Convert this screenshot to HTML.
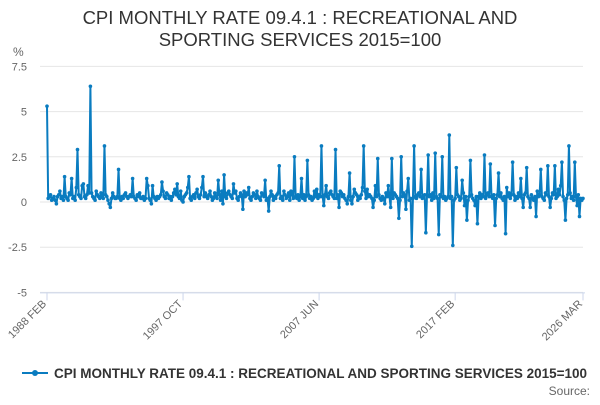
<!DOCTYPE html>
<html><head><meta charset="utf-8"><style>
body{margin:0;background:#fff;font-family:"Liberation Sans",sans-serif;}
svg text{font-family:"Liberation Sans",sans-serif;}
</style></head><body>
<svg width="600" height="400" xmlns="http://www.w3.org/2000/svg">
<text x="300" y="24" text-anchor="middle" font-size="18.5" fill="#333">CPI MONTHLY RATE 09.4.1 : RECREATIONAL AND</text>
<text x="300" y="46" text-anchor="middle" font-size="18.5" fill="#333">SPORTING SERVICES 2015=100</text>
<text x="13" y="56" font-size="12" fill="#666">%</text>
<g id="grid"></g><g id="yt"></g><g id="xt"></g><g id="series"></g>
<g>
<line x1="22" y1="373" x2="48" y2="373" stroke="#0a7cc0" stroke-width="2"/>
<circle cx="35" cy="373" r="3" fill="#0a7cc0"/>
<text x="54" y="378" font-size="13.5" font-weight="bold" fill="#333">CPI MONTHLY RATE 09.4.1 : RECREATIONAL AND SPORTING SERVICES 2015=100</text>
</g>
<text x="590" y="395" text-anchor="end" font-size="12" fill="#666">Source:</text>
</svg>
<script>
const yTicks=[7.5,5,2.5,0,-2.5,-5];
const yTickLabels=["7.5","5","2.5","0","-2.5","-5"];
const xTickIdx=[0,116,232,348,457];
const xTickLabels=["1988 FEB","1997 OCT","2007 JUN","2017 FEB","2026 MAR"];
const values=[
5.3,0.2,0.3,0.4,0.1,0.2,0.3,0.1,-0.1,0.3,0.4,0.6,
0.2,0.3,0.1,1.4,0.3,0.2,0.1,0.5,0.4,1.3,0.2,0.3,
0.1,0.8,2.9,0.4,0.3,0.2,0.9,1.0,0.3,0.2,0.4,0.9,
0.5,6.4,0.5,0.3,0.2,0.1,0.6,0.4,0.3,0.2,0.5,0.3,
0.2,3.1,0.4,0.3,0.1,-0.1,-0.3,0.2,0.5,0.3,0.2,0.2,
0.3,1.8,0.2,0.1,0.3,0.2,0.4,0.5,0.3,0.2,0.3,0.4,
0.3,1.3,0.3,0.2,0.1,0.4,0.3,0.5,0.2,0.2,0.3,0.1,
0.2,1.3,0.9,0.2,0.1,-0.1,0.9,0.3,0.2,0.1,0.3,0.2,
0.3,0.4,1.1,0.6,0.3,0.2,0.5,0.4,0.2,0.3,0.1,0.3,
0.5,0.7,0.4,1.0,0.3,0.2,0.6,0.1,0.0,0.3,0.4,0.5,
0.8,1.4,0.2,0.1,0.3,0.4,0.2,0.5,0.7,0.3,0.2,0.4,
0.8,1.4,0.3,0.5,0.3,0.2,0.4,0.6,0.3,0.1,0.2,0.5,
0.3,0.2,1.2,0.4,0.1,0.6,-0.1,1.5,0.3,0.2,0.5,0.6,
0.4,0.3,0.2,1.0,0.5,0.6,0.2,0.1,0.3,0.5,0.4,-0.4,
0.6,0.3,0.5,0.4,0.8,0.2,0.1,0.3,0.5,0.4,0.2,0.6,
0.3,0.2,0.1,0.5,0.4,0.3,1.2,0.1,0.2,-0.5,0.3,0.6,
0.4,0.1,0.3,0.2,0.4,0.5,2.0,0.2,0.3,0.1,0.6,0.4,
0.2,0.3,0.5,0.1,0.6,0.4,0.2,2.5,0.3,0.2,0.4,0.1,
0.3,1.3,0.2,0.4,0.1,0.3,2.3,0.4,0.2,0.3,0.1,0.2,
0.6,0.3,0.7,0.2,0.4,0.3,3.1,0.3,-0.2,0.4,0.9,0.3,
0.2,0.5,0.6,0.4,0.3,0.2,2.9,0.2,0.4,-0.3,0.6,0.5,
0.3,0.4,0.2,0.1,-0.1,0.3,1.6,0.1,-0.1,0.3,0.7,0.5,
0.4,0.1,0.3,0.2,0.4,0.8,3.1,0.6,0.2,0.7,0.3,0.4,
0.3,0.2,-0.3,0.1,0.9,0.3,2.4,0.4,0.2,0.1,0.3,0.2,
-0.1,0.5,0.3,0.9,0.3,-0.3,2.4,0.2,0.5,0.4,0.3,0.2,
-0.9,0.1,2.5,0.3,0.5,0.4,-0.4,0.6,1.3,0.1,0.2,-2.45,
0.2,3.1,0.3,0.2,0.4,0.5,0.3,1.8,0.2,0.3,0.4,-1.7,
0.4,2.6,0.3,0.4,0.1,0.5,0.2,2.7,0.3,0.2,-1.8,0.4,
0.3,2.5,0.2,0.3,0.1,0.2,0.3,3.7,0.2,0.3,-2.4,0.1,
0.2,1.9,0.4,0.3,0.1,0.2,1.2,0.5,-0.2,0.3,-1.0,0.1,
0.3,2.3,0.4,0.2,0.1,-0.2,0.3,-1.2,0.3,0.5,0.2,0.4,
0.3,2.6,0.2,0.4,0.5,0.3,2.1,0.3,0.2,0.4,-1.3,0.2,
0.4,1.6,0.3,0.5,0.2,0.1,0.3,-1.75,0.8,0.3,0.5,0.2,
0.4,2.2,0.4,0.1,0.3,0.2,0.5,0.3,1.3,0.2,-0.3,0.4,
0.5,1.9,0.3,0.2,-0.3,0.4,0.2,0.1,0.3,-0.8,0.6,0.3,
0.4,1.8,0.3,0.2,0.1,0.5,0.4,2.0,0.3,-0.3,0.2,0.5,
0.4,2.0,0.2,0.3,0.7,0.4,0.9,2.2,0.3,0.1,-1.0,0.2,
0.4,3.1,0.5,0.2,0.3,0.1,2.2,0.3,-0.2,0.4,-0.8,0.2,
0.1,0.2];
const NS="http://www.w3.org/2000/svg";
const X0=47,X1=583,Y0=202,PX=18.08;
function xs(i){return X0+i*(X1-X0)/(values.length-1);}
function ys(v){return Y0-v*PX;}
function mk(t,a){const e=document.createElementNS(NS,t);for(const k in a)e.setAttribute(k,a[k]);return e;}
const grid=document.getElementById('grid'),yt=document.getElementById('yt'),xt=document.getElementById('xt'),ser=document.getElementById('series');
yTicks.forEach((v,k)=>{
 const l=mk('line',{x1:40,x2:X1,y1:ys(v),y2:ys(v),stroke:'#e6e6e6','stroke-width':1});
 
 
 grid.appendChild(l);
 const t=mk('text',{x:27,y:ys(v)+4,'text-anchor':'end','font-size':11,fill:'#666'});
 t.textContent=yTickLabels[k];
 
 
 yt.appendChild(t);
});
const ax=mk('line',{x1:40,x2:X1+2,y1:ys(-5)+0.5,y2:ys(-5)+0.5,stroke:'#ccd6eb'});


xt.appendChild(ax);
xTickIdx.forEach((i,k)=>{
 const x=xs(i);
 const tk=mk('line',{x1:x,x2:x,y1:ys(-5),y2:ys(-5)+8,stroke:'#ccd6eb'});
 
 
 xt.appendChild(tk);
 const t=mk('text',{x:x,y:ys(-5)+12,'text-anchor':'end','font-size':11,fill:'#666',transform:`rotate(-45 ${x} ${ys(-5)+12})`});
 t.textContent=xTickLabels[k];
 
 
 xt.appendChild(t);
});
const pts=values.map((v,i)=>xs(i).toFixed(2)+','+ys(v).toFixed(2)).join(' ');
const pl=mk('polyline',{points:pts,fill:'none',stroke:'#0a7cc0','stroke-width':2,'stroke-linejoin':'round'});


ser.appendChild(pl);
values.forEach((v,i)=>{
 const c=mk('circle',{cx:xs(i),cy:ys(v),r:1.8,fill:'#0a7cc0'});
 
 
 ser.appendChild(c);
});
</script>
</body></html>
